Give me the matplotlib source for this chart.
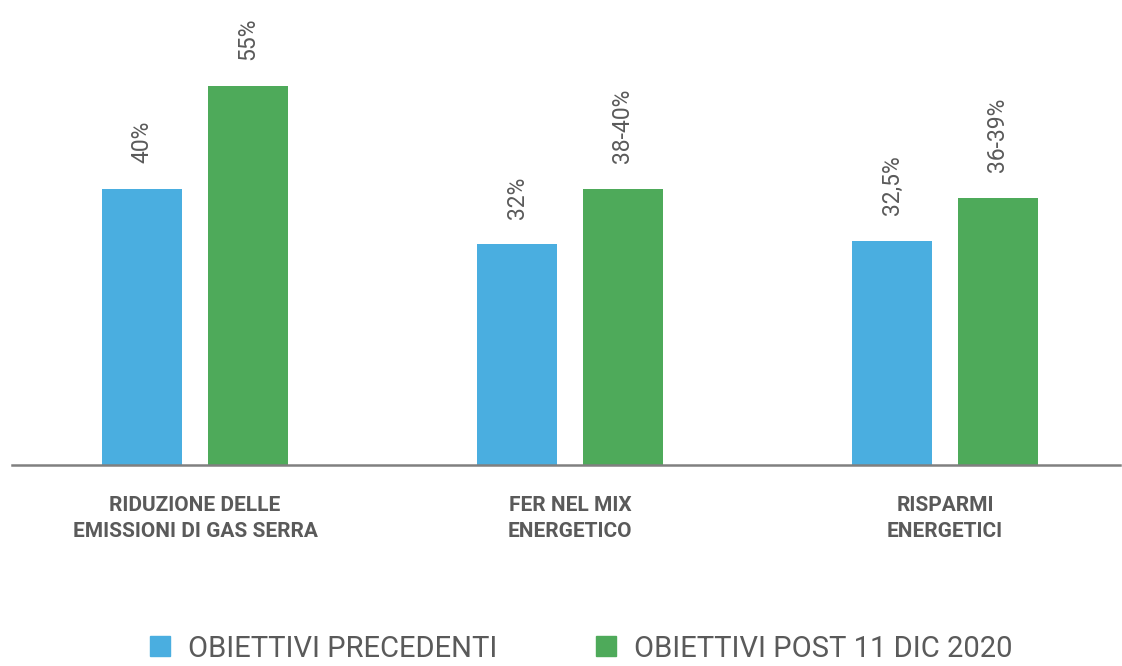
import matplotlib
matplotlib.use('Agg')
import numpy as np
from matplotlib import pyplot as plt
from matplotlib.patches import Patch

# Categories and values (percent)
categories = ["RIDUZIONE DELLE\nEMISSIONI DI GAS SERRA",
              "FER NEL MIX\nENERGETICO",
              "RISPARMI\nENERGETICI"]
previous = [40, 32, 32.5]
post_2020 = [55, 40, 38.7]
previous_labels = ["40%", "32%", "32,5%"]
post_labels = ["55%", "38-40%", "36-39%"]
series_names = ["OBIETTIVI PRECEDENTI", "OBIETTIVI POST 11 DIC 2020"]

blue = '#4aaee0'
green = '#4eaa5a'
gray_text = '#5a5a5a'

fig = plt.figure(figsize=(11.22, 6.66), dpi=100)
ax = fig.add_axes([12 / 1122, 201 / 666, 1108 / 1122, 465 / 666])

x = np.arange(len(categories))
w = 0.213
off = 0.141
b1 = ax.bar(x - off, previous, w, color=blue, zorder=1)
b2 = ax.bar(x + off, post_2020, w, color=green, zorder=1)

for bars, labels in [(b1, previous_labels), (b2, post_labels)]:
    for rect, lab in zip(bars, labels):
        ax.annotate(lab, (rect.get_x() + rect.get_width() / 2, rect.get_height()),
                    xytext=(0, 18.5), textcoords='offset points',
                    rotation=90, ha='center', va='bottom',
                    fontsize=16.5, color=gray_text, family='Roboto')

ax.set_xlim(-0.488, 2.467)
ax.set_ylim(0, 67.4)
for s in ['top', 'right', 'left']:
    ax.spines[s].set_visible(False)
ax.spines['bottom'].set_color('#808080')
ax.spines['bottom'].set_linewidth(1.8)
ax.spines['bottom'].set_zorder(3)
ax.set_yticks([])
ax.set_xticks(x)
ax.set_xticklabels(categories, fontsize=15, fontweight='bold', color=gray_text,
                   family='Roboto', linespacing=1.5)
ax.tick_params(axis='x', length=0, pad=22)

handles = [Patch(color=blue), Patch(color=green)]
leg = fig.legend(handles, series_names, loc='center', bbox_to_anchor=(0.518, 0.026),
                 ncol=2, frameon=False, handlelength=0.68, handleheight=0.68,
                 handletextpad=0.6, columnspacing=3.4,
                 prop={'family': 'Roboto', 'size': 21})
for t in leg.get_texts():
    t.set_color(gray_text)

fig.savefig('out.png', dpi=100)
